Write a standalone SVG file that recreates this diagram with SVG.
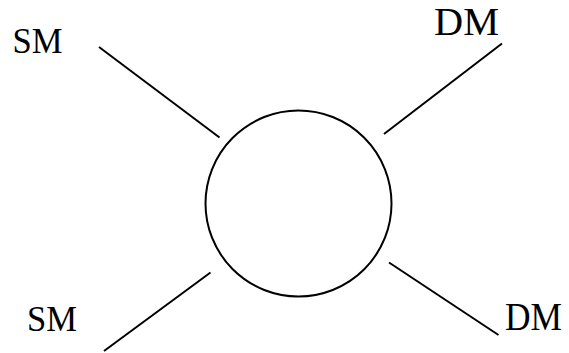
<svg xmlns="http://www.w3.org/2000/svg" width="569" height="353" viewBox="0 0 569 353">
<style>
.ln{stroke:#000;stroke-width:2;fill:none;stroke-linecap:butt}
.sm{font-family:"Liberation Serif","DejaVu Serif",serif;font-size:36px;fill:#000}
.dm{font-family:"Liberation Serif","DejaVu Serif",serif;font-size:40px;fill:#000}
</style>
<rect width="569" height="353" fill="#fff"/>
<g id="blob"><circle class="ln" cx="298.5" cy="203.5" r="93"/></g>
<g id="connectors">
<line class="ln" x1="99" y1="47" x2="219.5" y2="137.5"/>
<line class="ln" x1="384" y1="134" x2="502" y2="43.5"/>
<line class="ln" x1="210.5" y1="272.5" x2="104" y2="351"/>
<line class="ln" x1="389" y1="262.5" x2="498.5" y2="335"/>
</g>
<g id="sm1"><text class="sm" x="12.5" y="53" textLength="50" lengthAdjust="spacingAndGlyphs">SM</text></g>
<g id="dm1"><text class="dm" x="434" y="35" textLength="65" lengthAdjust="spacingAndGlyphs">DM</text></g>
<g id="sm2"><text class="sm" x="27" y="331" textLength="50" lengthAdjust="spacingAndGlyphs">SM</text></g>
<g id="dm2"><text class="dm" x="505" y="330" textLength="57" lengthAdjust="spacingAndGlyphs">DM</text></g>
</svg>
